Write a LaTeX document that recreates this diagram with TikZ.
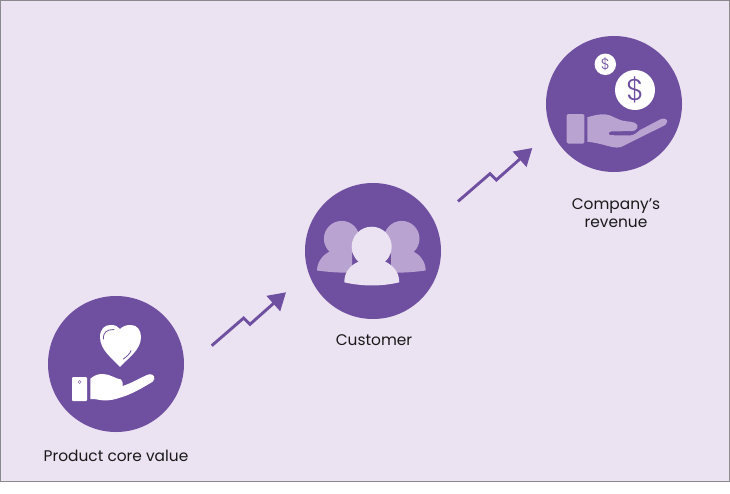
\documentclass[tikz,border=0pt]{standalone}
\usepackage{fontspec}
\setmainfont{Poppins}
\newfontfamily\coinfont{Poppins Light}
\usepackage{tikz}
\usetikzlibrary{arrows.meta,positioning}
\definecolor{panelbg}{HTML}{ECE3F2}
\definecolor{panelline}{HTML}{8A8A8C}
\definecolor{grapepurple}{HTML}{6F4FA0}
\definecolor{palegrape}{HTML}{B9A3D0}

\tikzset{
  badge/.style={circle, fill=grapepurple, minimum size=136pt, inner sep=0pt},
  caption/.style={font=\fontsize{15.4}{18}\selectfont, text=black!90, align=center, inner sep=0pt},
  coin/.style={circle, fill=white, inner sep=0pt, text=grapepurple},
  growth/.style={draw=grapepurple, line width=2.9pt, -{Triangle[length=17pt,width=20pt]}},
  glint/.style={draw=grapepurple, line width=0.8pt, line cap=round}
}

\begin{document}
\begin{tikzpicture}[x=1pt,y=-1pt]
  \useasboundingbox (0,0) rectangle (730,493);
  \fill[white] (0,0) rectangle (730,493);
  \draw[panelline, fill=panelbg, line width=1.2pt] (0.4,0.4) rectangle (729.6,481.6);

  \node[badge] (valuebadge) at (116,364) {};
  \node[badge] (customerbadge) at (373,251) {};
  \node[badge] (revenuebadge) at (614,104) {};
  \node[caption, below=18pt of valuebadge] (valuetext) {Product core value};
  \node[caption, below=15pt of customerbadge, xshift=1pt] (customertext) {Customer};
  \node[caption, below=26pt of revenuebadge, xshift=2pt] (revenuetext) {Company’s\\revenue};

  \fill[white] (120,367) .. controls (112,358) and (100,350) .. (100,337)
    .. controls (100,329) and (105,325) .. (110,325)
    .. controls (115,325) and (118,326) .. (120,329)
    .. controls (123,326) and (126,325) .. (131,325)
    .. controls (137,325) and (141,330) .. (141,337)
    .. controls (141,350) and (128,358) .. (120,367) -- cycle;
  \draw[glint] (103.5,339) .. controls (103,332) and (107,329.5) .. (114,329.5);
  \draw[glint] (123.5,359) .. controls (127,356) and (130,354) .. (131,350.5);
  \fill[white, rounded corners=1pt] (72,377) rectangle (87,401);
  \draw[grapepurple, line width=0.4pt] (79.7,382) circle (1.5pt);
  \fill[white] (90.3,378.7) .. controls (95,375) and (98,374) .. (103,374)
    .. controls (110,374) and (116,379) .. (121,379.5)
    .. controls (123,381) and (123,384) .. (122.7,386)
    .. controls (132,383) and (140,378) .. (147,375)
    .. controls (151,373) and (155,375) .. (154.3,379)
    .. controls (154,381) and (152,382.5) .. (150,383.3)
    .. controls (142,388) and (132,394) .. (122,397)
    .. controls (112,400.5) and (106,401) .. (100,400)
    .. controls (97,399) and (93,399) .. (90.3,399) -- cycle;

  \fill[palegrape] (341.7,238.7) circle (17.8pt);
  \fill[palegrape] (317,270.5) .. controls (317,262) and (323,254) .. (331,251)
    -- (352,251) -- (352,272.5) .. controls (340,273) and (328,272) .. (317,270.5) -- cycle;
  \fill[palegrape] (401.7,238.7) circle (17.8pt);
  \fill[palegrape] (425.7,270.5) .. controls (425.7,262) and (420,254) .. (412,251)
    -- (391,251) -- (391,272.5) .. controls (403,273) and (415,272) .. (425.7,270.5) -- cycle;
  \fill[panelbg] (371.7,246.7) circle (20pt);
  \fill[panelbg] (344.3,282.3) .. controls (344.3,272) and (350,265) .. (360,261)
    -- (384,261) .. controls (393,265) and (399.3,272) .. (399.3,282.3)
    .. controls (382,286.5) and (362,286.5) .. (344.3,282.3) -- cycle;

  \node[coin, minimum size=40pt, font=\coinfont\fontsize{30}{30}\selectfont] (bigcoin) at (635,90) {\$};
  \node[coin, minimum size=21.5pt, font=\coinfont\fontsize{15}{15}\selectfont] (smallcoin) at (605.3,64.3) {\$};
  \fill[palegrape, rounded corners=1.5pt] (566.7,114) rectangle (584.3,143.7);
  \fill[palegrape] (587.3,117.3) .. controls (595,115) and (600,114) .. (605,114.3)
    .. controls (612,115) and (616,119) .. (622,120.5)
    .. controls (628,122) and (635,121) .. (637.3,125)
    .. controls (638,128) and (636,131) .. (632,131)
    -- (611,131.5) .. controls (608,132) and (608,135) .. (611,135.2)
    -- (630,135.5) .. controls (635,135.2) and (637,132) .. (640,130)
    -- (661,119) .. controls (665,117.5) and (668,120) .. (667,122)
    .. controls (666.5,124.5) and (665,125.5) .. (663.3,126)
    -- (621,147) .. controls (618,148) and (616,147.5) .. (612,147)
    .. controls (604,145) and (596,142.5) .. (587.3,141.7) -- cycle;

  \coordinate (valueout) at (211.7,345.7);
  \coordinate (valuekinkup) at (243.7,318);
  \coordinate (valuekinkdown) at (250,324.3);
  \coordinate (customerin) at (286,292.3);
  \coordinate (customerout) at (458,201.4);
  \coordinate (customerkinkup) at (490,173.7);
  \coordinate (customerkinkdown) at (496.3,180);
  \coordinate (revenuein) at (532.3,148);
  \draw[growth] (valueout) -- (valuekinkup) -- (valuekinkdown) -- (customerin);
  \draw[growth] (customerout) -- (customerkinkup) -- (customerkinkdown) -- (revenuein);
\end{tikzpicture}
\end{document}
